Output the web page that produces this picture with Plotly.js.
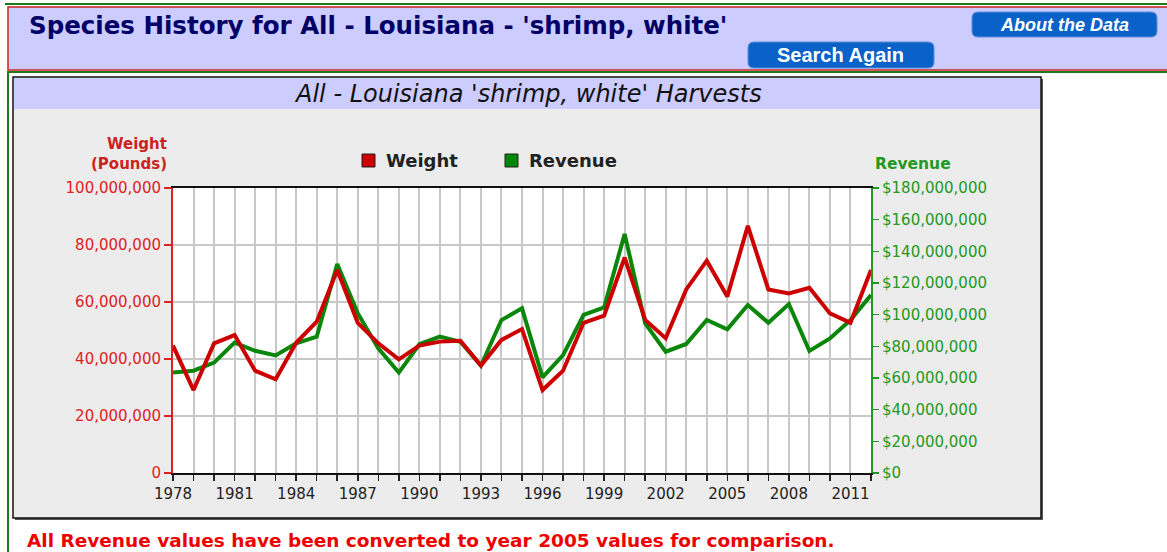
<!DOCTYPE html>
<html>
<head>
<meta charset="utf-8">
<script src="https://cdn.plot.ly/plotly-3.0.1.min.js"></script>
<style>
html,body{margin:0;padding:0;background:#fff;overflow:hidden;}
#chart{width:1167px;height:552px;}
</style>
</head>
<body>
<div id="chart"></div>
<script>
// ---- data ----
const years = [1978,1979,1980,1981,1982,1983,1984,1985,1986,1987,1988,1989,1990,1991,1992,1993,1994,
  1995,1996,1997,1998,1999,2000,2001,2002,2003,2004,2005,2006,2007,2008,2009,2010,2011,2012];
const weightPounds = [44700000,29100000,45500000,48400000,35900000,32900000,45700000,53100000,71200000,52700000,
  45500000,39900000,44700000,46100000,46400000,37700000,46700000,
  50500000,29100000,35900000,52700000,55200000,75600000,53700000,47300000,64400000,74500000,61900000,
  86700000,64400000,63000000,65000000,56000000,52700000,71200000];
const revenueDollars = [63400000,64600000,69700000,82300000,77200000,74300000,81900000,86100000,132000000,100900000,
  78700000,63400000,81300000,86100000,82900000,67800000,96600000,
  104000000,60400000,74500000,99800000,104600000,151000000,94500000,76600000,81500000,96600000,90700000,
  106100000,94900000,106700000,77100000,85000000,96600000,112400000];
const seriesNames = ["Weight", "Revenue"];
const xTickVals = [1978,1981,1984,1987,1990,1993,1996,1999,2002,2005,2008,2011];
const xTickText = ["1978","1981","1984","1987","1990","1993","1996","1999","2002","2005","2008","2011"];
const weightTickVals = [0,20000000,40000000,60000000,80000000,100000000];
const weightTickText = ["0","20,000,000","40,000,000","60,000,000","80,000,000","100,000,000"];
const revenueTickVals = [0,20000000,40000000,60000000,80000000,100000000,120000000,140000000,160000000,180000000];
const revenueTickText = ["$0","$20,000,000","$40,000,000","$60,000,000","$80,000,000","$100,000,000",
  "$120,000,000","$140,000,000","$160,000,000","$180,000,000"];
const pageTitle = "Species History for All - Louisiana - 'shrimp, white'";
const chartTitle = "All - Louisiana 'shrimp, white' Harvests";
const footNote = "All Revenue values have been converted to year 2005 values for comparison.";

// ---- layout helpers (pixel -> paper) ----
const L = 173, R = 871, T = 188, B = 473;
const fx = p => (p - L) / (R - L);
const fy = p => (B - p) / (B - T);
function rect(x0, y0, x1, y1, fill, line, lw, layer) {
  return {type:'rect', xref:'paper', yref:'paper', layer: layer || 'below',
    x0:fx(x0), x1:fx(x1), y0:fy(y1), y1:fy(y0),
    fillcolor:fill, line:{color:line || 'rgba(0,0,0,0)', width: lw || 0}};
}
function lineShape(x0, y0, x1, y1, color, w) {
  return {type:'line', xref:'paper', yref:'paper', layer:'below',
    x0:fx(x0), x1:fx(x1), y0:fy(y0), y1:fy(y1), line:{color:color, width:w}};
}
function roundRect(x0, y0, x1, y1, r, fill, line) {
  const X = fx, Y = fy;
  const p = `M ${X(x0+r)} ${Y(y0)} L ${X(x1-r)} ${Y(y0)} Q ${X(x1)} ${Y(y0)} ${X(x1)} ${Y(y0+r)} ` +
    `L ${X(x1)} ${Y(y1-r)} Q ${X(x1)} ${Y(y1)} ${X(x1-r)} ${Y(y1)} L ${X(x0+r)} ${Y(y1)} ` +
    `Q ${X(x0)} ${Y(y1)} ${X(x0)} ${Y(y1-r)} L ${X(x0)} ${Y(y0+r)} Q ${X(x0)} ${Y(y0)} ${X(x0+r)} ${Y(y0)} Z`;
  return {type:'path', xref:'paper', yref:'paper', layer:'above', path:p,
    fillcolor:fill, line:{color:line, width:1}};
}
function ann(text, x, y, xanchor, size, color, bold, italic, family) {
  return {text:text, xref:'paper', yref:'paper', x:fx(x), y:fy(y), xanchor:xanchor, yanchor:'middle',
    showarrow:false, font:{family: family || 'DejaVu Sans', size:size, color:color,
      weight: bold ? 'bold' : 'normal', style: italic ? 'italic' : 'normal'}};
}

const shapes = [
  lineShape(5, 4, 1167, 4, '#1f7a1f', 2),
  rect(8, 7, 1170, 70, '#ccccff', '#cc2222', 1.5),
  lineShape(8, 72, 1167, 72, '#1f7a1f', 2),
  lineShape(8, 71, 8, 552, '#1f7a1f', 2),
  rect(15, 79, 1043, 520, '#555555'),
  rect(13, 77, 1041, 518, '#ececec', '#111111', 1.5),
  rect(14, 78, 1040, 109, '#ccccff'),
  rect(L, T, R, B, '#ffffff'),
  rect(362, 154, 375, 167, '#cc0000', '#222222', 1, 'above'),
  rect(505, 154, 518, 167, '#008800', '#222222', 1, 'above'),
  roundRect(972, 12, 1157, 37, 6, '#0a62c8', '#5a8fd8'),
  roundRect(748, 42, 934, 68, 6, '#0a62c8', '#5a8fd8')
];

const annotations = [
  ann(pageTitle, 27, 25, 'left', 24.5, '#000066', true, false),
  ann(chartTitle, 528, 94, 'center', 24, '#111111', false, true),
  ann('Weight', 169, 144, 'right', 15, '#cc2222', true, false),
  ann('(Pounds)', 169, 164, 'right', 15, '#cc2222', true, false),
  ann('Revenue', 873, 164, 'left', 15.5, '#229922', true, false),
  ann(seriesNames[0], 384, 161, 'left', 18, '#222222', true, false),
  ann(seriesNames[1], 527, 161, 'left', 18, '#222222', true, false),
  ann('About the Data', 1064, 25, 'center', 18, '#ffffff', true, true, 'Liberation Sans'),
  ann('Search Again', 840, 55, 'center', 20, '#ffffff', true, false, 'Liberation Sans'),
  ann(footNote, 25, 540, 'left', 18.5, '#ee0000', true, false)
];

const traces = [
  {x: years, y: revenueDollars, name: seriesNames[1], type:'scatter', mode:'lines', yaxis:'y',
   line:{color:'#0a860a', width:4}},
  {x: years, y: weightPounds, name: seriesNames[0], type:'scatter', mode:'lines', yaxis:'y2',
   line:{color:'#cc0000', width:4}}
];

const tickFont = {family:'DejaVu Sans', size:15};
const layout = {
  width:1167, height:552, autosize:false,
  margin:{l:L, r:1167-R, t:T, b:552-B, pad:0},
  paper_bgcolor:'#ffffff', plot_bgcolor:'rgba(0,0,0,0)',
  showlegend:false,
  xaxis:{range:[1978,2012], tickmode:'array', tickvals:xTickVals, ticktext:xTickText,
    ticks:'outside', ticklen:6, tickwidth:1.5, tickcolor:'#222',
    tickfont:Object.assign({color:'#222'}, tickFont),
    showgrid:true, gridcolor:'#c8c8c8', gridwidth:2,
    minor:{dtick:1, tick0:1978, ticks:'outside', ticklen:6, tickwidth:1.5, tickcolor:'#222',
      showgrid:true, gridcolor:'#c8c8c8', gridwidth:2},
    showline:true, linecolor:'#111', linewidth:2, mirror:true, zeroline:false, fixedrange:true},
  yaxis:{range:[0,180000000], side:'right', tickmode:'array', tickvals:revenueTickVals, ticktext:revenueTickText,
    ticks:'outside', ticklen:6, tickwidth:1.5, tickcolor:'#229922',
    tickfont:Object.assign({color:'#229922'}, tickFont),
    showgrid:false, showline:true, linecolor:'#229922', linewidth:2, zeroline:false},
  yaxis2:{range:[0,100000000], side:'left', overlaying:'y', tickmode:'array', tickvals:weightTickVals, ticktext:weightTickText,
    ticks:'outside', ticklen:7, tickwidth:1.5, tickcolor:'#dd2222',
    tickfont:Object.assign({color:'#dd2222'}, tickFont),
    showgrid:true, gridcolor:'#c8c8c8', gridwidth:2,
    showline:true, linecolor:'#dd2222', linewidth:2, zeroline:false},
  shapes:shapes,
  annotations:annotations
};

Plotly.newPlot('chart', traces, layout, {staticPlot:true, displayModeBar:false});
</script>
</body>
</html>
